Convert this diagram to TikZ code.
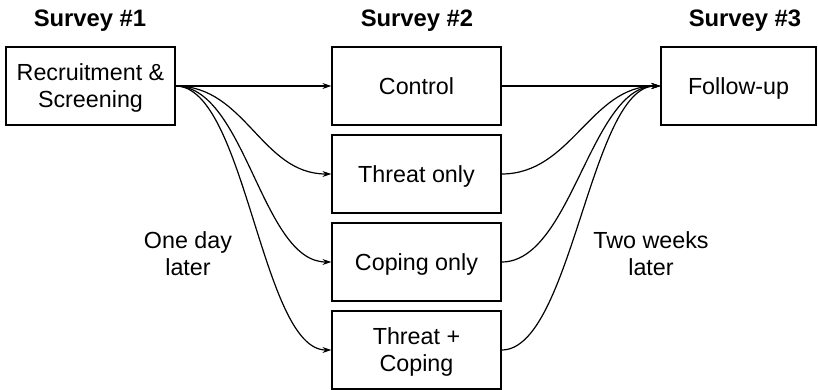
\documentclass[tikz,border=0pt]{standalone}
\usepackage{fontspec}
\setmainfont{Liberation Sans}
\usetikzlibrary{arrows.meta}
\begin{document}
\begin{tikzpicture}[x=1pt,y=-1pt,
  box/.style={draw,line width=1.2pt,rectangle,minimum width=169pt,minimum height=78pt,align=center,inner sep=0pt,text depth=0pt,font=\fontsize{23.3}{27}\selectfont},
  title/.style={font=\bfseries\fontsize{23.8}{27}\selectfont,inner sep=0pt,anchor=base},
  lbl/.style={align=center,inner sep=0pt,font=\fontsize{23.3}{27}\selectfont},
  arr/.style={line width=1.2pt,-{Stealth[length=9pt,width=6pt]}}]
\useasboundingbox (0,0) rectangle (818,390);
\node[title] (s1) at (90,27) {Survey \#1};
\node[title] (s2) at (417,27) {Survey \#2};
\node[title] (s3) at (745,27) {Survey \#3};
\node[box] (rec) at (90.5,86) {Recruitment \&\\Screening};
\node[box] (ctl) at (416.5,86) {Control};
\node[box] (thr) at (416.5,174) {Threat only};
\node[box] (cop) at (416.5,262) {Coping only};
\node[box] (tc) at (416.5,350) {Threat +\\Coping};
\node[box,minimum width=155pt] (fu) at (738.5,86) {Follow-up};
\node[lbl] (l1) at (188,254) {One day\\later};
\node[lbl] (l2) at (651,254) {Two weeks\\later};
\draw[arr] (rec.east) -- (ctl.west);
\foreach \t in {thr,cop,tc}{
  \draw[arr] (rec.east) .. controls +(70,0) and +(-70,0) .. (\t.west);
  \draw[arr] (\t.east) .. controls +(70,0) and +(-70,0) .. (fu.west);
}
\draw[arr] (ctl.east) -- (fu.west);
\end{tikzpicture}
\end{document}
